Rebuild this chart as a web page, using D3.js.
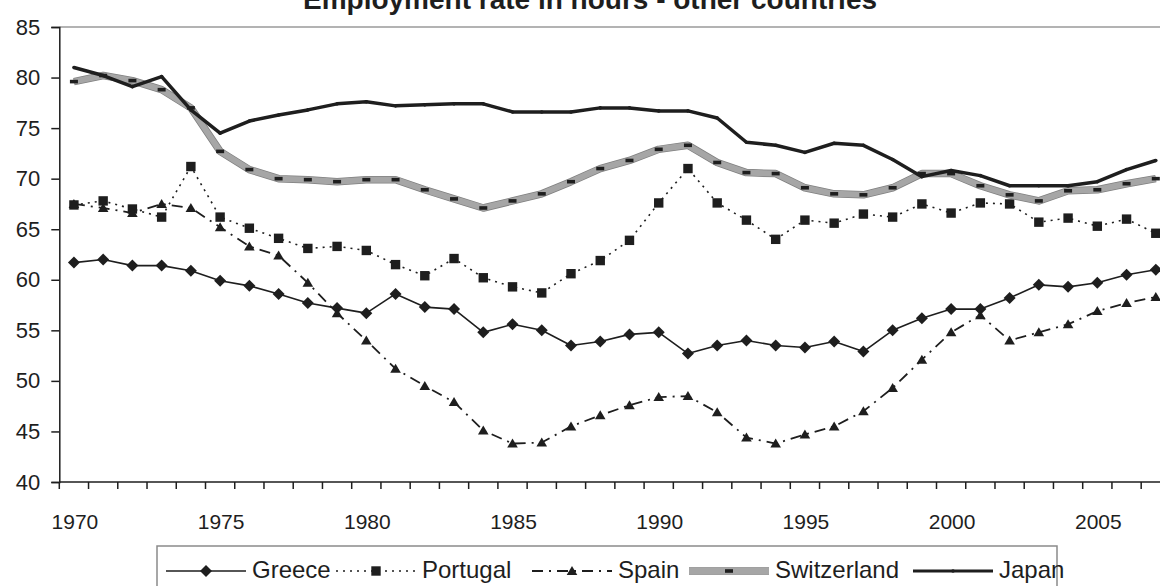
<!DOCTYPE html>
<html>
<head>
<meta charset="utf-8">
<script src="https://cdn.jsdelivr.net/npm/d3@7"></script>
<style>
  body { margin: 0; background: #fff; }
  svg { display: block; font-family: Arial, "Liberation Sans", sans-serif; }
</style>
</head>
<body>
<svg id="chart" width="1160" height="586"></svg>
<script>
const title = "Employment rate in hours - other countries";

const years = d3.range(1970, 2008);

const greece = [61.7, 62.0, 61.4, 61.4, 60.9, 59.9, 59.4, 58.6, 57.7, 57.2,
  56.7, 58.6, 57.3, 57.1, 54.8, 55.6, 55.0, 53.5, 53.9, 54.6,
  54.8, 52.7, 53.5, 54.0, 53.5, 53.3, 53.9, 52.9, 55.0, 56.2,
  57.1, 57.1, 58.2, 59.5, 59.3, 59.7, 60.5, 61.0];

const portugal = [67.4, 67.8, 67.0, 66.2, 71.2, 66.2, 65.1, 64.1, 63.1, 63.3,
  62.9, 61.5, 60.4, 62.1, 60.2, 59.3, 58.7, 60.6, 61.9, 63.9,
  67.6, 71.0, 67.6, 65.9, 64.0, 65.9, 65.6, 66.5, 66.2, 67.5,
  66.6, 67.6, 67.5, 65.7, 66.1, 65.3, 66.0, 64.6];

const spain = [67.5, 67.1, 66.6, 67.5, 67.1, 65.2, 63.3, 62.4, 59.7, 56.7,
  54.0, 51.2, 49.5, 47.9, 45.1, 43.8, 43.9, 45.5, 46.6, 47.6,
  48.4, 48.5, 46.9, 44.4, 43.8, 44.7, 45.5, 47.0, 49.3, 52.1,
  54.8, 56.5, 54.0, 54.8, 55.6, 56.9, 57.7, 58.3];

const switzerland = [79.6, 80.2, 79.7, 78.8, 77.0, 72.7, 70.9, 70.0, 69.9, 69.7,
  69.9, 69.9, 68.9, 68.0, 67.1, 67.8, 68.5, 69.7, 71.0, 71.8,
  72.9, 73.3, 71.6, 70.6, 70.5, 69.1, 68.5, 68.4, 69.1, 70.5,
  70.5, 69.3, 68.4, 67.8, 68.8, 68.9, 69.5, 70.0];

const japan = [81.0, 80.2, 79.1, 80.1, 76.8, 74.5, 75.7, 76.3, 76.8, 77.4,
  77.6, 77.2, 77.3, 77.4, 77.4, 76.6, 76.6, 76.6, 77.0, 77.0,
  76.7, 76.7, 76.0, 73.6, 73.3, 72.6, 73.5, 73.3, 71.9, 70.2,
  70.8, 70.3, 69.3, 69.3, 69.3, 69.7, 70.9, 71.8];

const yTicks = [40, 45, 50, 55, 60, 65, 70, 75, 80, 85];
const xLabelYears = [1970, 1975, 1980, 1985, 1990, 1995, 2000, 2005];

const series = [
  { name: "Greece", values: greece, marker: "diamond" },
  { name: "Portugal", values: portugal, marker: "square" },
  { name: "Spain", values: spain, marker: "triangle" },
  { name: "Switzerland", values: switzerland, marker: "dash" },
  { name: "Japan", values: japan, marker: "dot" }
];

const ink = "#1e1e1e";
const margin = { left: 59.3, top: 27, bottom: 482 };
const bandW = 29.24;

const svg = d3.select("#chart");

const x = d3.scaleBand()
  .domain(years)
  .range([margin.left, margin.left + bandW * years.length])
  .padding(0);
const y = d3.scaleLinear().domain([40, 85]).range([margin.bottom, margin.top]);
const cx = d => x(d) + x.bandwidth() / 2;

// title, partly cut off by the top edge like in the source
svg.append("text")
  .attr("x", 590).attr("y", 9)
  .attr("text-anchor", "middle")
  .attr("font-size", 28).attr("font-weight", "bold")
  .attr("fill", ink)
  .text(title);

// grey top line of the plot area
svg.append("line")
  .attr("x1", margin.left).attr("x2", x.range()[1])
  .attr("y1", margin.top).attr("y2", margin.top)
  .attr("stroke", "#9a9a9a").attr("stroke-width", 1.5);

// y axis
const yAxis = svg.append("g")
  .attr("transform", `translate(${margin.left},0)`)
  .call(d3.axisLeft(y).tickValues(yTicks).tickSize(8).tickPadding(11).tickFormat(d3.format("d")));
yAxis.select(".domain").attr("stroke", ink).attr("stroke-width", 1.5);
yAxis.selectAll(".tick line").attr("stroke", ink).attr("stroke-width", 1.5);
yAxis.selectAll("text").attr("font-size", 22).attr("fill", ink)
  .attr("font-family", "Arial, 'Liberation Sans', sans-serif");

// x axis: ticks between categories, labels every five years
const xg = svg.append("g");
xg.append("line")
  .attr("x1", margin.left).attr("x2", x.range()[1])
  .attr("y1", margin.bottom).attr("y2", margin.bottom)
  .attr("stroke", ink).attr("stroke-width", 1.5);
xg.selectAll(".xtick")
  .data(years.concat([2008]))
  .join("line")
  .attr("class", "xtick")
  .attr("x1", d => d === 2008 ? x.range()[1] : x(d))
  .attr("x2", d => d === 2008 ? x.range()[1] : x(d))
  .attr("y1", margin.bottom).attr("y2", margin.bottom + 7)
  .attr("stroke", ink).attr("stroke-width", 1.5);
xg.selectAll(".xlabel")
  .data(xLabelYears)
  .join("text")
  .attr("class", "xlabel")
  .attr("x", d => cx(d) + 1)
  .attr("y", 529)
  .attr("text-anchor", "middle")
  .attr("font-size", 21).attr("fill", ink)
  .text(d => d);

// line styles
const styles = {
  Greece: { stroke: ink, width: 1.6, dash: null },
  Portugal: { stroke: ink, width: 1.6, dash: "2,5" },
  Spain: { stroke: ink, width: 1.8, dash: "11,6,2,6" },
  Switzerland: { stroke: "#a6a6a6", width: 6, dash: null, under: "#808080" },
  Japan: { stroke: ink, width: 3.5, dash: null }
};

function drawMarker(g, type, px, py) {
  if (type === "diamond") {
    g.append("path").attr("d", `M${px},${py - 6}L${px + 6},${py}L${px},${py + 6}L${px - 6},${py}Z`).attr("fill", ink);
  } else if (type === "square") {
    g.append("rect").attr("x", px - 4.7).attr("y", py - 4.7).attr("width", 9.4).attr("height", 9.4).attr("fill", ink);
  } else if (type === "triangle") {
    g.append("path").attr("d", `M${px},${py - 5}L${px + 5.3},${py + 4}L${px - 5.3},${py + 4}Z`).attr("fill", ink);
  } else if (type === "dash") {
    g.append("rect").attr("x", px - 4).attr("y", py - 1.8).attr("width", 8).attr("height", 3.6).attr("fill", ink);
  } else if (type === "dot") {
    g.append("circle").attr("cx", px).attr("cy", py).attr("r", 1.8).attr("fill", ink);
  }
}

const line = d3.line().x((d, i) => cx(years[i])).y(d => y(d));

const plot = svg.append("g");
series.forEach(s => {
  const st = styles[s.name];
  const g = plot.append("g");
  if (st.under) {
    g.append("path").attr("d", line(s.values)).attr("fill", "none")
      .attr("stroke", st.under).attr("stroke-width", st.width + 1.5).attr("stroke-linejoin", "round");
  }
  g.append("path").attr("d", line(s.values)).attr("fill", "none")
    .attr("stroke", st.stroke).attr("stroke-width", st.width)
    .attr("stroke-dasharray", st.dash).attr("stroke-linejoin", "round");
  s.values.forEach((v, i) => drawMarker(g, s.marker, cx(years[i]), y(v)));
});

// legend
const legendItems = [
  { name: "Greece", x0: 166 },
  { name: "Portugal", x0: 336 },
  { name: "Spain", x0: 532 },
  { name: "Switzerland", x0: 689 },
  { name: "Japan", x0: 913 }
];
const legendY = 571;
const lg = svg.append("g");
lg.append("rect")
  .attr("x", 157).attr("y", 546).attr("width", 900).attr("height", 60)
  .attr("fill", "#fff").attr("stroke", "#8a8a8a").attr("stroke-width", 1.5);
legendItems.forEach(it => {
  const s = series.find(d => d.name === it.name);
  const st = styles[it.name];
  const len = 80;
  const x0 = it.x0;
  const g = lg.append("g");
  if (st.under) {
    g.append("line").attr("x1", x0).attr("x2", x0 + len).attr("y1", legendY).attr("y2", legendY)
      .attr("stroke", st.under).attr("stroke-width", st.width + 1.5);
  }
  g.append("line").attr("x1", x0).attr("x2", x0 + len).attr("y1", legendY).attr("y2", legendY)
    .attr("stroke", st.stroke).attr("stroke-width", it.name === "Japan" ? 3 : st.width)
    .attr("stroke-dasharray", st.dash);
  drawMarker(g, s.marker, x0 + len / 2, legendY);
  g.append("text").attr("x", x0 + len + 6).attr("y", legendY + 7)
    .attr("font-size", 24).attr("fill", ink).text(it.name);
});
</script>
</body>
</html>
